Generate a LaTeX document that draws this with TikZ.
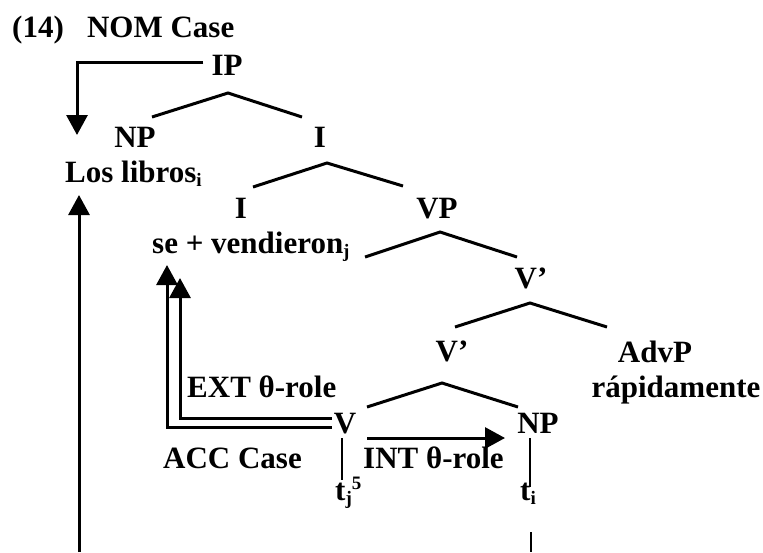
\documentclass[tikz,border=0pt]{standalone}
\usepackage{fontspec}
\setmainfont{Liberation Serif}
\usepackage{tikz}
\usetikzlibrary{arrows.meta}
\newcommand\lowidx[1]{\raisebox{-0.35ex}{\fontsize{19}{19}\selectfont #1}}
\newcommand\highidx[1]{\raisebox{0.75ex}{\fontsize{19}{19}\selectfont #1}}

\begin{document}
\begin{tikzpicture}[x=1pt, y=-1pt, every node/.style={inner sep=0pt, font=\fontsize{31}{37}\selectfont\bfseries}]

    \useasboundingbox (0,0) rectangle (763,552);

    % --- 1. Kategorien und Woerter (Grundlinie als Bezug) ---
    \tikzset{kat/.style={anchor=base}, wort/.style={anchor=base west}}
    \node[wort] (titel) at (12,37) {(14)\hspace{0.75em}NOM Case};
    \node[kat] (ip) at (227,75) {IP};
    \node[kat] (np-subj) at (135,147) {NP};
    \node[kat] (i-bar) at (320,147) {I};
    \node[wort] (libros) at (65,182) {Los libros\lowidx{i}};
    \node[kat] (i-kopf) at (241,218) {I};
    \node[wort] (verb) at (152,253) {se + vendieron\lowidx{j}};
    \node[kat] (vp) at (437,218) {VP};
    \node[kat] (v-bar-o) at (531,288) {V’};
    \node[kat] (v-bar-u) at (452,361) {V’};
    \node[kat] (advp) at (655,362) {AdvP};
    \node[kat] (adv) at (676,397) {rápidamente};
    \node[kat] (v) at (345,433) {V};
    \node[kat] (np-obj) at (538,433) {NP};
    \node[wort] (spur-j) at (335,500) {t\lowidx{j}\highidx{5}};
    \node[wort] (spur-i) at (520,500) {t\lowidx{i}};

    % --- 2. Aeste des Baums ---
    \tikzset{ast/.style={line width=3pt}, spur/.style={line width=2pt}}
    \draw[ast] ([shift={(17,-30)}]np-subj.base) -- ([shift={(1,18)}]ip.base) -- ([shift={(-18,-30)}]i-bar.base);
    \draw[ast] ([shift={(12,-31)}]i-kopf.base) -- ([shift={(7,16)}]i-bar.base) -- ([shift={(-34,-32)}]vp.base);
    \draw[ast] ([shift={(-72,39)}]vp.base) -- ([shift={(3,14)}]vp.base) -- ([shift={(-14,-31)}]v-bar-o.base);
    \draw[ast] ([shift={(3,-34)}]v-bar-u.base) -- ([shift={(-1,15)}]v-bar-o.base) -- ([shift={(-48,-35)}]advp.base);
    \draw[ast] ([shift={(22,-26)}]v.base) -- ([shift={(-10,22)}]v-bar-u.base) -- ([shift={(-20,-26)}]np-obj.base);
    \draw[spur] ([shift={(-3,5)}]v.base) -- ([shift={(7,-20)}]spur-j.base west);
    \draw[spur] ([shift={(-8,5)}]np-obj.base) -- ([shift={(10,-13)}]spur-i.base west);
    \coordinate (unten-r) at (531,552);
    \draw[spur] ([shift={(11,32)}]spur-i.base west) -- (unten-r);

    % --- 3. Kasus- und Theta-Pfeile ---
    \tikzset{pfeil/.style={line width=3pt, -{Triangle[length=20pt, width=21pt]}}}
    \draw[pfeil] ([shift={(-8,-13)}]ip.base west) -| ([shift={(12,-47)}]libros.base west);
    \coordinate (unten-l) at (79,552);
    \draw[pfeil] (unten-l) -- ([shift={(14,13)}]libros.base west);
    \draw[pfeil] ([shift={(-2,-6)}]v.base west) -| ([shift={(15,12)}]verb.base west);
    \draw[pfeil] ([shift={(-2,-15)}]v.base west) -| ([shift={(28,25)}]verb.base west);
    \draw[pfeil] ([shift={(22,5)}]v.base) -- ([shift={(-33,5)}]np-obj.base);

    % --- 4. Beschriftungen der Pfeile ---
    \node[wort] (ext) at (187,397) {EXT θ-role};
    \node[wort] (acc) at (163,468) {ACC Case};
    \node[wort] (int) at (363,468) {INT θ-role};

\end{tikzpicture}
\end{document}
